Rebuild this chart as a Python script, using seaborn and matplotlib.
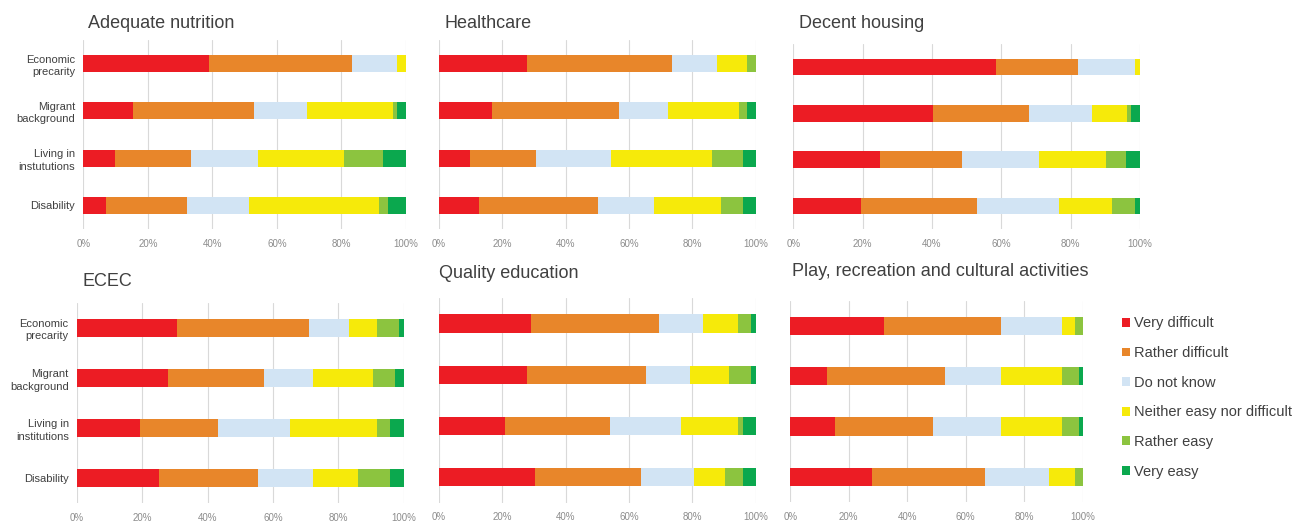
import numpy as np
import pandas as pd
import matplotlib
matplotlib.use("Agg")
import matplotlib.pyplot as plt
from matplotlib.patches import Patch
import seaborn as sns

sns.set_style("white")
plt.rcParams['font.family'] = ['Liberation Sans', 'DejaVu Sans']

responses = ["Very difficult", "Rather difficult", "Do not know",
             "Neither easy nor difficult", "Rather easy", "Very easy"]
colors = ["#EC1C24", "#E8862A", "#D2E4F4", "#F6EA0A", "#8CC43F", "#0BA84E"]

groups_top = ["Economic\nprecarity", "Migrant\nbackground", "Living in\ninstututions", "Disability"]
groups_bottom = ["Economic\nprecarity", "Migrant\nbackground", "Living in\ninstitutions", "Disability"]

titles = ["Adequate nutrition", "Healthcare", "Decent housing",
          "ECEC", "Quality education", "Play, recreation and cultural activities"]

# rows: groups; columns: responses (percent)
nutrition = [[39.0, 44.4, 13.7, 2.9, 0.0, 0.0],
             [15.3, 37.6, 16.4, 26.6, 1.2, 2.9],
             [9.9, 23.5, 20.8, 26.5, 12.3, 7.0],
             [7.0, 25.0, 19.4, 40.2, 2.7, 5.7]]
healthcare = [[27.9, 45.8, 14.0, 9.5, 2.8, 0.0],
              [16.8, 40.1, 15.3, 22.5, 2.5, 2.8],
              [9.7, 20.8, 23.7, 32.0, 9.7, 4.1],
              [12.5, 37.6, 17.9, 21.1, 6.8, 4.1]]
housing = [[58.5, 23.7, 16.5, 1.3, 0.0, 0.0],
           [40.4, 27.7, 18.0, 10.1, 1.2, 2.6],
           [25.1, 23.6, 22.1, 19.5, 5.6, 4.1],
           [19.5, 33.4, 23.6, 15.3, 6.9, 1.3]]
ecec = [[30.6, 40.3, 12.5, 8.3, 7.0, 1.3],
        [28.0, 29.1, 15.2, 18.2, 6.7, 2.8],
        [19.4, 23.8, 21.9, 26.6, 4.1, 4.2],
        [25.1, 30.4, 16.8, 13.7, 9.8, 4.2]]
education = [[29.1, 40.4, 13.9, 11.1, 4.1, 1.4],
             [27.8, 37.6, 13.9, 12.4, 6.9, 1.4],
             [20.7, 33.3, 22.3, 18.2, 1.4, 4.1],
             [30.4, 33.4, 16.7, 9.9, 5.5, 4.1]]
play = [[32.0, 40.2, 20.7, 4.4, 2.7, 0.0],
        [12.4, 40.4, 19.4, 20.7, 5.7, 1.4],
        [15.2, 33.5, 23.5, 20.7, 5.7, 1.4],
        [27.8, 38.9, 21.9, 8.7, 2.7, 0.0]]

panels = [nutrition, healthcare, housing, ecec, education, play]
panel_groups = [groups_top] * 3 + [groups_bottom] * 3

W, H = 1313, 522
# axes rects in pixels: (x0, x1, ytop, ybottom)
rects = [(83.3, 406.0, 40.0, 229.0),
         (439.0, 755.7, 40.0, 229.0),
         (793.3, 1140.0, 43.8, 229.2),
         (77.0, 403.7, 303.0, 503.4),
         (439.0, 755.7, 298.0, 502.6),
         (790.3, 1082.7, 300.8, 502.0)]
title_pos = [(88, 23), (445, 23), (799, 23), (83, 281), (439, 273), (792, 271)]

fig = plt.figure(figsize=(W / 100, H / 100), dpi=100)

for i, (vals, groups, rect) in enumerate(zip(panels, panel_groups, rects)):
    x0, x1, yt, yb = rect
    ax = fig.add_axes([x0 / W, 1 - yb / H, (x1 - x0) / W, (yb - yt) / H])
    df = pd.DataFrame(vals, columns=responses)
    df.insert(0, "group", groups)
    cum = df[responses].cumsum(axis=1)
    # draw cumulative totals from the last category backwards so each overlays
    for k in range(len(responses) - 1, -1, -1):
        d = pd.DataFrame({"group": groups, "value": cum[responses[k]].values})
        sns.barplot(data=d, x="value", y="group", order=groups, orient="h",
                    color=colors[k], width=0.36, saturation=1, ax=ax,
                    linewidth=0, errorbar=None)
    ax.set_xlim(0, 100)
    ax.set_ylim(3.5, -0.5)
    ax.set_xticks(np.arange(0, 101, 20))
    ax.set_xticklabels([f"{t}%" for t in range(0, 101, 20)])
    ax.set_xlabel("")
    ax.set_ylabel("")
    ax.grid(axis="x", color="#D9D9D9", linewidth=0.8)
    ax.set_axisbelow(True)
    for s in ax.spines.values():
        s.set_visible(False)
    ax.tick_params(axis="x", length=0, labelsize=7, labelcolor="#8C8C8C", pad=7)
    if i in (0, 3):
        ax.tick_params(axis="y", length=0, labelsize=8, labelcolor="#404040", pad=6)
        for lab in ax.get_yticklabels():
            lab.set_horizontalalignment("right")
            lab.set_multialignment("right")
            lab.set_linespacing(1.3)
    else:
        ax.set_yticklabels([])
        ax.tick_params(axis="y", length=0)
    tx, ty = title_pos[i]
    fig.text(tx / W, 1 - ty / H, titles[i], fontsize=13, color="#404040",
             ha="left", va="center")

handles = [Patch(facecolor=c, edgecolor="none") for c in colors]
fig.legend(handles, responses, loc="upper left",
           bbox_to_anchor=(1122 / W, 1 - 316.5 / H), frameon=False,
           fontsize=10.5, handlelength=0.55, handleheight=0.55,
           handletextpad=0.3, labelspacing=1.07, borderpad=0, borderaxespad=0,
           labelcolor="#404040")

fig.savefig("out.png", dpi=100, facecolor="white")
